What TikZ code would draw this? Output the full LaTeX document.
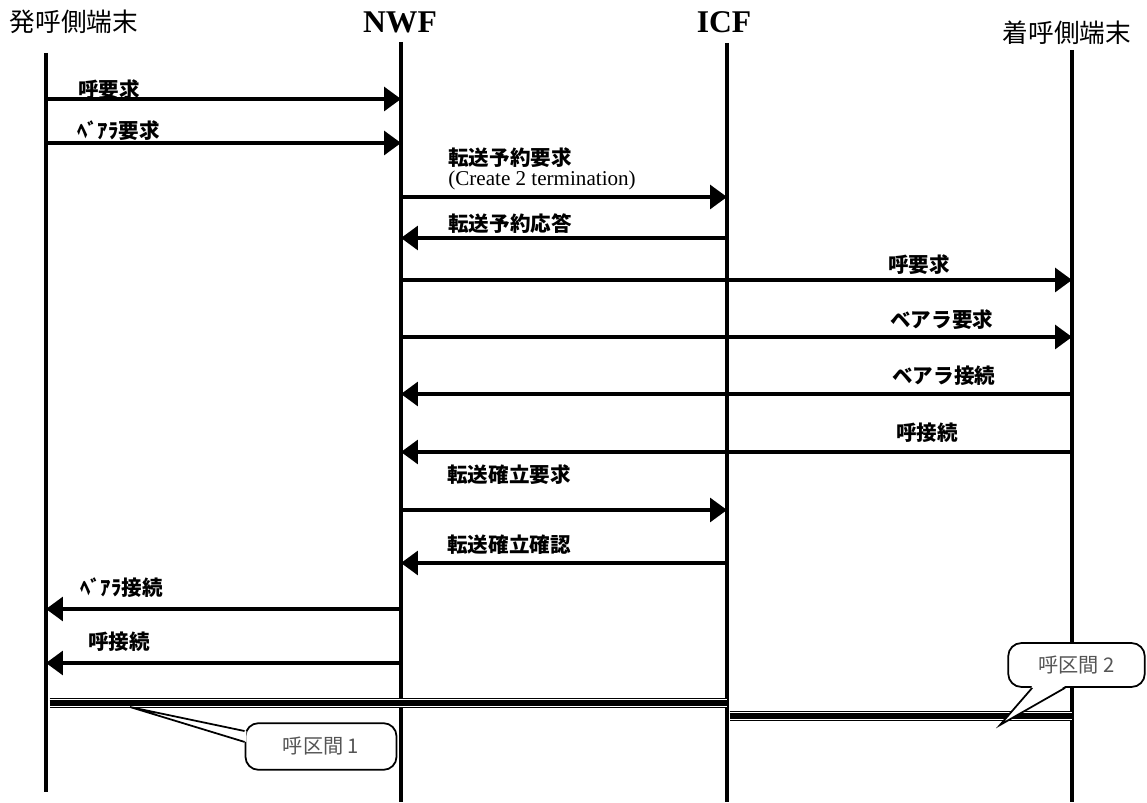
\documentclass[tikz,border=0pt]{standalone}
\usepackage{fontspec}
\setmainfont{Liberation Serif}
\newfontfamily\jp{Noto Sans CJK JP}
\usetikzlibrary{arrows.meta}
\definecolor{notegray}{HTML}{555555}
\tikzstyle{lifeline} = [line width=2pt]
\tikzstyle{arrow} = [line width=2pt,-{Triangle[length=9.6pt,width=13.5pt]}]
\tikzstyle{head} = [inner sep=0pt, font=\jp\fontsize{14.6}{16}\selectfont]
\tikzstyle{headb} = [inner sep=0pt, font=\bfseries\fontsize{18}{20}\selectfont]
\tikzstyle{msg} = [anchor=west, inner sep=0pt, font=\jp\bfseries\fontsize{11.7}{13}\selectfont]
\tikzstyle{section} = [line width=3pt, preaction={draw,line width=6pt}, preaction={draw,white,line width=4.4pt}]
\tikzstyle{note} = [rectangle, rounded corners=7.5pt, draw=black, line width=1pt, fill=white, text=notegray, inner sep=0pt, font=\jp\fontsize{11.5}{13}\selectfont]

\begin{document}
\begin{tikzpicture}[x=0.02cm,y=-0.02cm]
\useasboundingbox (0,0) rectangle (1147,803);

\node (hA) [head] at (74,22) {発呼側端末};
\node (hN) [headb] at (400,22) {NWF};
\node (hI) [headb] at (724,22) {ICF};
\node (hB) [head] at (1067,33) {着呼側端末};

% lifelines
\coordinate (A) at (46,53);
\coordinate (Ae) at (46,792);
\coordinate (N) at (401,42);
\coordinate (Ne) at (401,802);
\coordinate (I) at (727,43);
\coordinate (Ie) at (727,802);
\coordinate (B) at (1072,50);
\coordinate (Be) at (1072,802);
\draw [lifeline] (A) -- (Ae);
\draw [lifeline] (N) -- (Ne);
\draw [lifeline] (I) -- (Ie);
\draw [lifeline] (B) -- (Be);

% messages
\coordinate (m1) at (0,99);
\coordinate (m2) at (0,143);
\coordinate (m3) at (0,197);
\coordinate (m4) at (0,238);
\coordinate (m5) at (0,280);
\coordinate (m6) at (0,337);
\coordinate (m7) at (0,394);
\coordinate (m8) at (0,452);
\coordinate (m9) at (0,510);
\coordinate (m10) at (0,563);
\coordinate (m11) at (0,609);
\coordinate (m12) at (0,663);

\draw [arrow] (A |- m1) -- (N |- m1);
\draw [arrow] (A |- m2) -- (N |- m2);
\draw [arrow] (N |- m3) -- (I |- m3);
\draw [arrow] (I |- m4) -- (N |- m4);
\draw [arrow] (N |- m5) -- (B |- m5);
\draw [arrow] (N |- m6) -- (B |- m6);
\draw [arrow] (B |- m7) -- (N |- m7);
\draw [arrow] (B |- m8) -- (N |- m8);
\draw [arrow] (N |- m9) -- (I |- m9);
\draw [arrow] (I |- m10) -- (N |- m10);
\draw [arrow] (N |- m11) -- (A |- m11);
\draw [arrow] (N |- m12) -- (A |- m12);

\node (l1) [msg] at (78,90) {呼要求};
\node (l2) [msg] at (77,131) {ﾍﾞｱﾗ要求};
\node (l3) [msg] at (448,158) {転送予約要求};
\node (l3b) [anchor=west, inner sep=0pt, font=\fontsize{12}{14}\selectfont] at (448,180) {(Create 2 termination)};
\node (l4) [msg] at (448,224) {転送予約応答};
\node (l5) [msg] at (888,265) {呼要求};
\node (l6) [msg] at (890,320) {ベアラ要求};
\node (l7) [msg] at (892,376) {ベアラ接続};
\node (l8) [msg] at (896,433) {呼接続};
\node (l9) [msg] at (447,475) {転送確立要求};
\node (l10) [msg] at (447,545) {転送確立確認};
\node (l11) [msg] at (80,588) {ﾍﾞｱﾗ接続};
\node (l12) [msg] at (88,642) {呼接続};

% call sections
\coordinate (s1) at (0,703);
\coordinate (s2) at (0,716);
\draw [section] ([xshift=2pt]A |- s1) -- (I |- s1);
\draw [section] ([xshift=1.5pt]I |- s2) -- (B |- s2);

\node (z1) [note, minimum width=86pt, minimum height=26.6pt] at (321,746.5) {呼区間 1};
\coordinate (z1tip) at (130,707);
\fill [white] ([xshift=1pt,yshift=8.8pt]z1.west) -- (z1tip) -- ([xshift=1pt,yshift=2.6pt]z1.west) -- cycle;
\draw [line width=1pt] ([yshift=8.8pt]z1.west) -- (z1tip) -- ([yshift=2.6pt]z1.west);

\node (z2) [note, minimum width=77.7pt, minimum height=25pt] at (1076.5,665) {呼区間 2};
\coordinate (z2tip) at (1000,725);
\fill [white] ([xshift=-25.2pt,yshift=1pt]z2.south) -- (z2tip) -- ([xshift=-6.5pt,yshift=1pt]z2.south) -- cycle;
\draw [line width=1pt] ([xshift=-25.2pt]z2.south) -- (z2tip) -- ([xshift=-6.5pt]z2.south);

\end{tikzpicture}
\end{document}
